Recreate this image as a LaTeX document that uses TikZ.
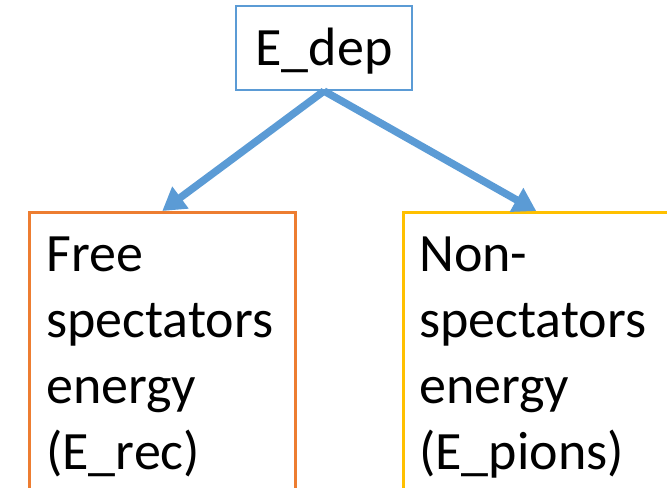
\documentclass[tikz,border=0pt]{standalone}
\usepackage{fontspec}
\setmainfont{Carlito}
\usetikzlibrary{positioning}
\usetikzlibrary{arrows.meta}
\definecolor{accentblue}{HTML}{5B9BD5}
\definecolor{accentorange}{HTML}{ED7D31}
\definecolor{accentgold}{HTML}{FFC000}

\begin{document}
\begin{tikzpicture}[
    x=0.75pt, y=-0.75pt,
    every node/.style={font=\fontsize{40.5}{49.5}\selectfont},
    rootbox/.style={
        draw=accentblue, line width=1.5pt,
        minimum width=132pt, minimum height=63pt, inner sep=0pt,
        text height=25.5pt, text depth=0pt
    },
    leafbox/.style={
        draw=#1, line width=1.9pt, anchor=north west,
        minimum width=199.5pt, minimum height=300pt, inner sep=0pt
    },
    leaftext/.style={anchor=base west, align=left, inner sep=0pt},
    flow/.style={
        draw=accentblue, line width=5.6pt,
        -{Triangle[length=17pt,width=19.5pt]}
    }
  ]
  \useasboundingbox (0,0) rectangle (667,487);

  % root
  \node[rootbox] (edep) at (324,48) {E\_dep};

  % the two parts (text base = last line)
  \node[leafbox=accentorange] (free) at (28,211) {};
  \node[leaftext] (freetext) at (46,469) {Free\\spectators\\energy\\(E\_rec)};

  \node[leafbox=accentgold] (nonspec) at (402,211) {};
  \node[leaftext] (nonspectext) at (419,469) {Non-\\spectators\\energy\\(E\_pions)};

  \draw[flow] (edep.south) -- (free.north);
  \draw[flow] (edep.south) -- (nonspec.north);

\end{tikzpicture}
\end{document}
